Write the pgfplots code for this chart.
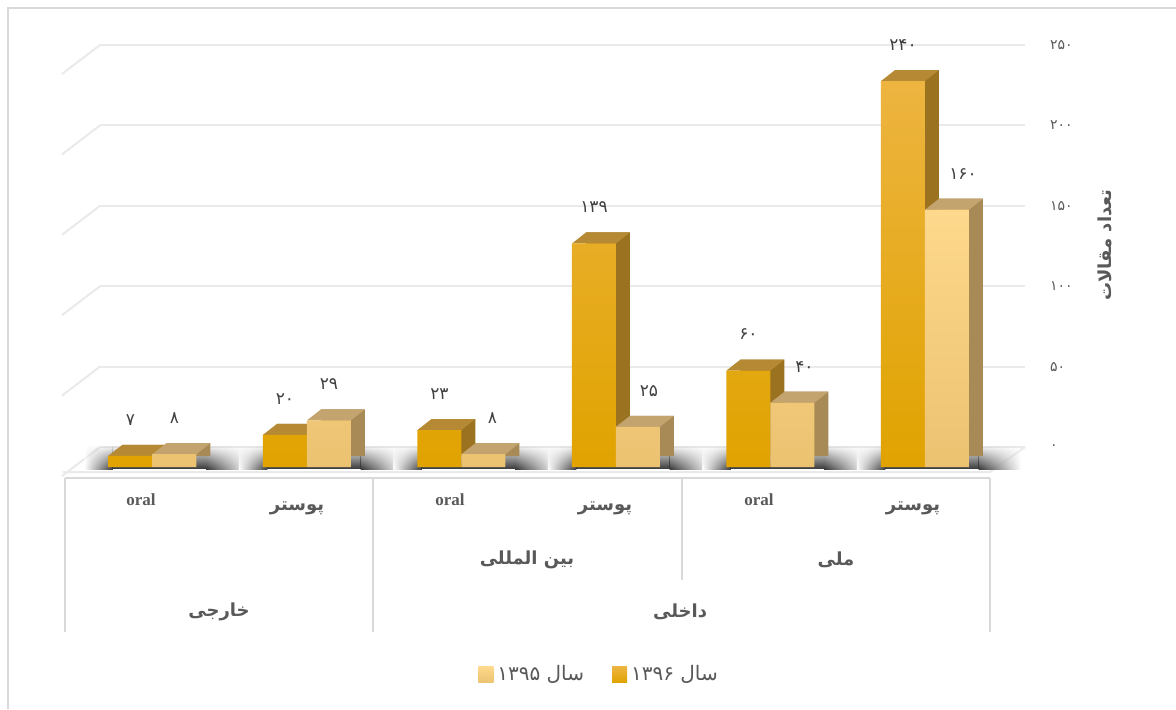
\documentclass[border=0pt]{standalone}
\usepackage{fontspec}
\usepackage{pgfplots}
\pgfplotsset{compat=1.18}
\usepackage{pgfplotstable}
\usetikzlibrary{fadings}
\TeXXeTstate=1
\setmainfont{Liberation Serif}
\newfontfamily\fa[Script=Arabic]{DejaVu Sans}
\definecolor{gridc}{HTML}{EAEAEA}
\definecolor{tablec}{HTML}{D9D9D9}
\definecolor{txtc}{HTML}{595959}
\definecolor{valc}{HTML}{404040}
\definecolor{frontDt}{HTML}{EDB440}
\definecolor{frontDm}{HTML}{F0AE00}
\definecolor{frontDb}{HTML}{E0A300}
\definecolor{topD}{HTML}{B68A35}
\definecolor{sideD}{HTML}{9A7220}
\definecolor{frontLt}{HTML}{FED88C}
\definecolor{frontLb}{HTML}{EBC270}
\definecolor{topL}{HTML}{C4A46E}
\definecolor{sideL}{HTML}{A88A56}
\definecolor{shad}{HTML}{383838}

\pgfplotstableread{
x y lbl dx
0 7 ۷ 0
1 20 ۲۰ 0
2 23 ۲۳ 0
3 139 ۱۳۹ 0
4 60 ۶۰ 0
5 240 ۲۴۰ 0
}\tabA
\pgfplotstableread{
x y lbl dx
0 8 ۸ 0
1 29 ۲۹ 0
2 8 ۸ 9
3 25 ۲۵ 11
4 40 ۴۰ 12
5 160 ۱۶۰ 16
}\tabB

\pgfdeclareplotmark{topface}{%
  \pgfpathmoveto{\pgfqpoint{-11pt}{0pt}}%
  \pgfpathlineto{\pgfqpoint{11pt}{0pt}}%
  \pgfpathlineto{\pgfqpoint{18pt}{5.5pt}}%
  \pgfpathlineto{\pgfqpoint{-4pt}{5.5pt}}%
  \pgfpathclose\pgfusepathqfill}
\pgfdeclareplotmark{shadow}{%
  \shade[left color=white, right color=shad, draw=none, path fading=north] (-34pt,-1pt) rectangle (-19.8pt,11pt);
  \fill[shad, draw=none, path fading=north] (-20pt,-1pt) rectangle (27pt,11pt);
  \shade[left color=shad, right color=white, draw=none, path fading=north] (26.8pt,-1pt) rectangle (48pt,11pt);}

\begin{document}
\begin{tikzpicture}
\path[use as bounding box, fill=white] (0,0) rectangle (588pt,354.5pt);
\begin{scope}[x=0.5pt, y=-0.5pt, yshift=354.5pt]
\draw[tablec, line width=1pt] (8,709) -- (8,8) -- (1176,8);
\draw[gridc, line width=1pt] (63,472) -- (990,472) -- (1025,447);
\end{scope}

% back wall with grid and value axis
\begin{axis}[at={(50pt,131pt)}, anchor=south west, scale only axis,
  width=462.5pt, height=201pt, xmin=0, xmax=1, ymin=0, ymax=250,
  axis line style={draw=none}, xtick=\empty,
  ytick={0,50,100,150,200,250},
  yticklabels={۰,۵۰,۱۰۰,۱۵۰,۲۰۰,۲۵۰},
  yticklabel pos=right, major tick length=0pt,
  ymajorgrids, grid style={gridc, line width=1pt},
  yticklabel style={font=\fa\fontsize{7}{8}\selectfont, text=txtc, anchor=west, xshift=9pt},
  clip=false]
\pgfplotsinvokeforeach{0,50,100,150,200,250}{\draw[gridc, line width=1pt] (axis cs:0,#1) -- ++(-19pt,-14.5pt);}
\end{axis}

% bars
\begin{axis}[at={(32.2pt,121pt)}, anchor=south west,
  x=77.25pt, y=0.804pt, xmin=-0.57, xmax=5.42, ymin=0, ymax=250,
  hide axis, clip=false, clip marker paths=true,
  legend image code/.code={\path[#1] (0pt,-4pt) rectangle (7.5pt,4pt);},
  legend style={at={(0.5788,-0.517)}, anchor=center, draw=none, fill=none,
    legend columns=2, font=\fa\fontsize{10}{12}\selectfont, text=txtc,
    /tikz/every even column/.append style={column sep=12pt},
    inner sep=0pt, row sep=0pt},
  legend cell align=left]
\addlegendimage{top color=frontLt, bottom color=frontLb, draw=none}
\addlegendentry{\beginR سال \beginL۱۳۹۵\endL\endR}
\addlegendimage{top color=frontDt, bottom color=frontDb, draw=none}
\addlegendentry{\beginR سال \beginL۱۳۹۶\endL\endR}

\addplot[only marks, mark=shadow, forget plot] coordinates {(0,0) (1,0) (2,0) (3,0) (4,0) (5,0)};

% 1396 series
\addplot[ybar, bar width=22pt, bar shift=0pt, draw=none, fill=sideD, xshift=-4pt, yshift=5.5pt, forget plot]
  table[x=x, y=y]{\tabA};
\addplot[only marks, mark=topface, mark options={fill=topD, draw=none}, xshift=-11pt, forget plot]
  table[x=x, y=y]{\tabA};
\addplot[ybar, bar width=22pt, bar shift=0pt, draw=none,
  top color=frontDt, middle color=frontDm, bottom color=frontDb, xshift=-11pt, forget plot,
  point meta=explicit symbolic, nodes near coords={\pgfplotspointmeta},
  visualization depends on={\thisrow{dx}\as\dxval},
  nodes near coords style={font=\fa\fontsize{8.5}{10}\selectfont, text=valc, anchor=center,
    yshift=18pt, xshift={\dxval*0.5pt}}]
  table[x=x, y=y, meta=lbl]{\tabA};

% 1395 series
\addplot[ybar, bar width=22pt, bar shift=0pt, draw=none, fill=sideL, xshift=18pt, yshift=5.5pt, forget plot]
  table[x=x, y=y]{\tabB};
\addplot[only marks, mark=topface, mark options={fill=topL, draw=none}, xshift=11pt, forget plot]
  table[x=x, y=y]{\tabB};
\addplot[ybar, bar width=22pt, bar shift=0pt, draw=none,
  top color=frontLt, bottom color=frontLb, xshift=11pt, forget plot,
  point meta=explicit symbolic, nodes near coords={\pgfplotspointmeta},
  visualization depends on={\thisrow{dx}\as\dxval},
  nodes near coords style={font=\fa\fontsize{8.5}{10}\selectfont, text=valc, anchor=center,
    yshift=18pt, xshift={\dxval*0.5pt}}]
  table[x=x, y=y, meta=lbl]{\tabB};
\end{axis}

% category table
\begin{scope}[x=0.5pt, y=-0.5pt, yshift=354.5pt]
\draw[tablec, line width=1pt] (65,478) -- (990,478);
\draw[tablec, line width=1pt] (65,478) -- (65,632);
\draw[tablec, line width=1pt] (373,478) -- (373,632);
\draw[tablec, line width=1pt] (682,478) -- (682,580);
\draw[tablec, line width=1pt] (990,478) -- (990,632);
\foreach \xx in {141,450,759}{\node[font=\bfseries\fontsize{8.5}{10}\selectfont, text=txtc] at (\xx,500) {oral};}
\foreach \xx in {297,605,913}{\node[font=\fa\bfseries\fontsize{9}{11}\selectfont, text=txtc] at (\xx,508) {\beginR پوستر\endR};}
\node[font=\fa\bfseries\fontsize{9}{11}\selectfont, text=txtc] at (527,560) {\beginR بین المللی\endR};
\node[font=\fa\bfseries\fontsize{9}{11}\selectfont, text=txtc] at (836,560) {\beginR ملی\endR};
\node[font=\fa\bfseries\fontsize{9}{11}\selectfont, text=txtc] at (219,612) {\beginR خارجی\endR};
\node[font=\fa\bfseries\fontsize{9}{11}\selectfont, text=txtc] at (680,612) {\beginR داخلی\endR};
\node[rotate=90, font=\fa\bfseries\fontsize{9}{11}\selectfont, text=txtc] at (1105,245) {\beginR تعداد مقالات\endR};
\end{scope}
\end{tikzpicture}
\end{document}
